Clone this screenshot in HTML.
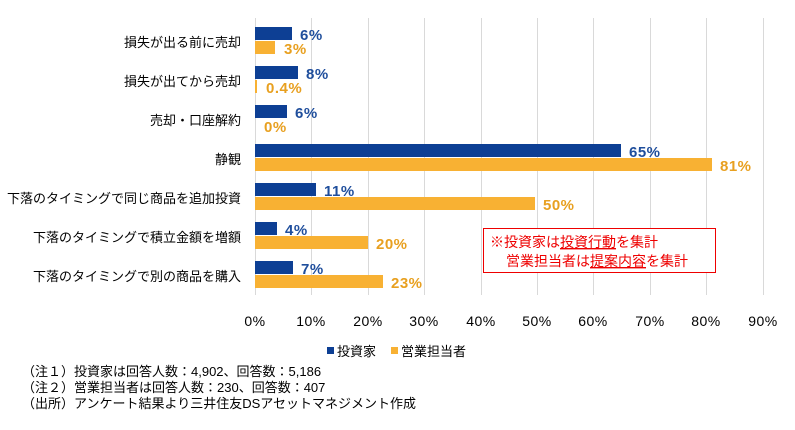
<!DOCTYPE html><html><head><meta charset="utf-8"><style>
body{margin:0;width:795px;height:425px;background:#fff;overflow:hidden;font-family:"Liberation Sans","Noto Sans CJK JP",sans-serif}
</style></head><body>
<svg width="795" height="425" xmlns="http://www.w3.org/2000/svg" font-family="Liberation Sans, Noto Sans CJK JP, sans-serif">
<g stroke="#d9d9d9" stroke-width="1">
<line x1="255.5" y1="18" x2="255.5" y2="295"/>
<line x1="311.5" y1="18" x2="311.5" y2="295"/>
<line x1="368.5" y1="18" x2="368.5" y2="295"/>
<line x1="424.5" y1="18" x2="424.5" y2="295"/>
<line x1="481.5" y1="18" x2="481.5" y2="295"/>
<line x1="537.5" y1="18" x2="537.5" y2="295"/>
<line x1="593.5" y1="18" x2="593.5" y2="295"/>
<line x1="650.5" y1="18" x2="650.5" y2="295"/>
<line x1="706.5" y1="18" x2="706.5" y2="295"/>
<line x1="763.5" y1="18" x2="763.5" y2="295"/>
</g>
<g font-size="13" fill="#000" text-anchor="end">
<text x="241" y="47">損失が出る前に売却</text>
<text x="241" y="86">損失が出てから売却</text>
<text x="241" y="125">売却・口座解約</text>
<text x="241" y="164">静観</text>
<text x="241" y="203">下落のタイミングで同じ商品を追加投資</text>
<text x="241" y="242">下落のタイミングで積立金額を増額</text>
<text x="241" y="281">下落のタイミングで別の商品を購入</text>
</g>
<g fill="#0d3f94">
<rect x="255" y="27" width="37" height="13"/>
<rect x="255" y="66" width="43" height="13"/>
<rect x="255" y="105" width="32" height="13"/>
<rect x="255" y="144" width="366" height="13"/>
<rect x="255" y="183" width="61" height="13"/>
<rect x="255" y="222" width="22" height="13"/>
<rect x="255" y="261" width="38" height="13"/>
</g>
<g fill="#f8b133">
<rect x="255" y="41" width="20" height="13"/>
<rect x="255" y="80" width="2" height="13"/>
<rect x="255" y="158" width="457" height="13"/>
<rect x="255" y="197" width="280" height="13"/>
<rect x="255" y="236" width="113" height="13"/>
<rect x="255" y="275" width="128" height="13"/>
</g>
<g font-size="15" font-weight="bold" fill="#1f4e9c" letter-spacing="0.5">
<text x="300" y="40">6%</text>
<text x="306" y="79">8%</text>
<text x="295" y="118">6%</text>
<text x="629" y="157">65%</text>
<text x="324" y="196">11%</text>
<text x="285" y="235">4%</text>
<text x="301" y="274">7%</text>
</g>
<g font-size="15" font-weight="bold" fill="#e8a020" letter-spacing="0.5">
<text x="284" y="54">3%</text>
<text x="266" y="93">0.4%</text>
<text x="264" y="132">0%</text>
<text x="720" y="171">81%</text>
<text x="543" y="210">50%</text>
<text x="376" y="249">20%</text>
<text x="391" y="288">23%</text>
</g>
<g font-size="14" fill="#000" text-anchor="middle" letter-spacing="0.5">
<text x="255" y="326">0%</text><text x="311" y="326">10%</text><text x="368" y="326">20%</text><text x="424" y="326">30%</text><text x="481" y="326">40%</text><text x="537" y="326">50%</text><text x="593" y="326">60%</text><text x="650" y="326">70%</text><text x="706" y="326">80%</text><text x="763" y="326">90%</text>
</g>
<rect x="327" y="347" width="7" height="7" fill="#0d3f94"/>
<text x="337" y="356" font-size="13">投資家</text>
<rect x="391" y="347" width="7" height="7" fill="#f8b133"/>
<text x="401" y="356" font-size="13">営業担当者</text>
<rect x="483.5" y="228.5" width="232" height="44" fill="#fff" stroke="#e00" stroke-width="1"/>
<g font-size="14" fill="#e00">
<text x="490" y="247">※投資家は<tspan text-decoration="underline">投資行動</tspan>を集計</text>
<text x="506" y="266">営業担当者は<tspan text-decoration="underline">提案内容</tspan>を集計</text>
</g>
<g font-size="13" fill="#000">
<text x="22" y="376">（注１）投資家は回答人数：4,902、回答数：5,186</text>
<text x="22" y="392">（注２）営業担当者は回答人数：230、回答数：407</text>
<text x="22" y="408">（出所）アンケート結果より三井住友DSアセットマネジメント作成</text>
</g>
</svg>
</body></html>
